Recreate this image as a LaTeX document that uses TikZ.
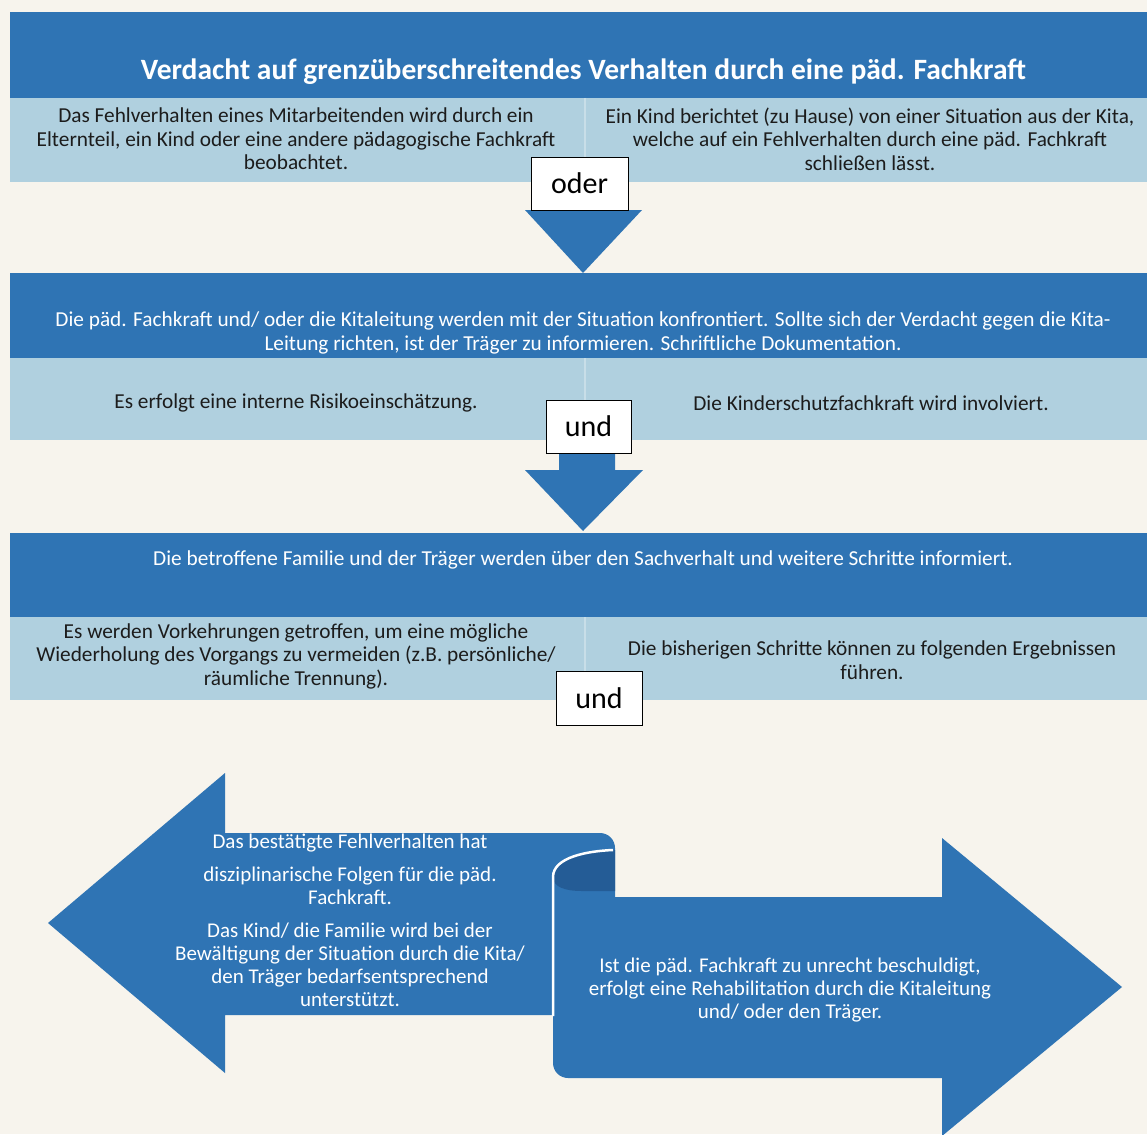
\documentclass[tikz,border=0pt]{standalone}
\usepackage{fontspec}
\setmainfont{Carlito}
\usetikzlibrary{positioning}
\definecolor{paper}{RGB}{247,244,237}
\definecolor{darkband}{RGB}{47,116,180}
\definecolor{lightband}{RGB}{176,208,223}
\definecolor{splitline}{RGB}{200,222,232}
\definecolor{foldblue}{RGB}{36,92,150}
\definecolor{textdark}{RGB}{28,28,28}

\begin{document}
\begin{tikzpicture}[x=1pt, y=-1pt,
  dark/.style={fill=darkband, inner sep=0, anchor=north west, minimum width=1137pt},
  light/.style={fill=lightband, inner sep=0, anchor=north west, minimum width=1137pt},
  title/.style={text=white, font=\bfseries\fontsize{29.5}{34}\selectfont},
  whitetext/.style={text=white, align=center, font=\fontsize{21.3}{23.5}\selectfont},
  celltext/.style={text=textdark, align=center, font=\fontsize{21.3}{23.5}\selectfont},
  joiner/.style={draw=black, fill=white, line width=0.9pt, inner sep=0, font=\fontsize{30}{34}\selectfont}]

\useasboundingbox (0,0) rectangle (1147,1134);
\fill[paper] (0,0) rectangle (1147,1134);

\node[dark, minimum height=86pt] (band1) at (10,12) {};
\node[light, minimum height=84pt] (cells1) at (10,98) {};
\node[dark, minimum height=85pt] (band2) at (10,273) {};
\node[light, minimum height=82pt] (cells2) at (10,358) {};
\node[dark, minimum height=84pt] (band3) at (10,533) {};
\node[light, minimum height=83pt] (cells3) at (10,617) {};

\foreach \b in {cells1, cells2, cells3}
  \draw[splitline, line width=2pt] (\b.north west) ++(575,0) -- ++(0,80);

\node[title] (head) at (583.5,72) {Verdacht auf grenzüberschreitendes Verhalten durch eine päd. Fachkraft};
\node[celltext] (seen) at (296,139) {Das Fehlverhalten eines Mitarbeitenden wird durch ein\\
  Elternteil, ein Kind oder eine andere pädagogische Fachkraft\\ beobachtet.};
\node[celltext] (told) at (870,139) {Ein Kind berichtet (zu Hause) von  einer Situation aus der Kita,\\
  welche auf ein Fehlverhalten durch eine päd. Fachkraft\\ schließen lässt.};

\node[whitetext] (confront) at (583,333) {Die päd. Fachkraft und/ oder die Kitaleitung werden mit der Situation konfrontiert. Sollte sich der Verdacht gegen die  Kita-\\
  Leitung richten, ist der Träger zu informieren. Schriftliche  Dokumentation.};
\node[celltext] (risk) at (296,403) {Es erfolgt eine interne Risikoeinschätzung.};
\node[celltext] (involve) at (871,403) {Die Kinderschutzfachkraft wird involviert.};

\node[whitetext] (inform) at (583,560) {Die betroffene Familie  und der Träger  werden über den  Sachverhalt und weitere Schritte informiert.};
\node[celltext] (prevent) at (296,656) {Es werden Vorkehrungen getroffen, um eine  mögliche\\
  Wiederholung des Vorgangs zu vermeiden (z.B. persönliche/\\ räumliche Trennung).};
\node[celltext] (results) at (872,660) {Die bisherigen Schritte  können zu folgenden Ergebnissen\\ führen.};

\fill[darkband] (525,210) -- (642,210) -- (583,273) -- cycle;
\fill[darkband] (559,420) -- (615,420) -- (615,470) -- (643,470) -- (583,531) -- (525,470) -- (559,470) -- cycle;

\node[joiner, minimum width=97pt, minimum height=53pt] (oder) at (579.5,183.5) {oder};
\node[joiner, minimum width=85pt, minimum height=53pt] (und1) at (588.5,426.5) {und};
\node[joiner, minimum width=86pt, minimum height=54pt] (und2) at (599,698) {und};

\fill[darkband] (48,923) -- (225,773) -- (225,833) -- (600,833) arc[start angle=-90, end angle=0, radius=15] -- (615,850)
  .. controls (588,851) and (553,857) .. (553,877) -- (553,1015) -- (225,1015) -- (225,1073) -- cycle;
\fill[darkband] (615,850) .. controls (588,851) and (553,857) .. (553,877) -- (553,1063)
  arc[start angle=180, end angle=90, radius=15] -- (942,1078) -- (942,1136) -- (1122,987) -- (942,838) -- (942,897) -- (615,897) -- cycle;
\fill[foldblue] (615,850) .. controls (588,851) and (553,857) .. (553,877) .. controls (553,887) and (565,891) .. (582,891) -- (615,891) -- cycle;
\draw[white, line width=2.5pt] (613,850) .. controls (588,851) and (553,857) .. (553,877) -- (553,1016);

\node[whitetext, font=\fontsize{21}{23}\selectfont] (guilty) at (350,920) {Das bestätigte Fehlverhalten hat\\[10pt]
  disziplinarische Folgen für die päd.\\ Fachkraft.\\[10pt]
  Das Kind/ die Familie wird bei der\\ Bewältigung der Situation durch die Kita/\\
  den Träger bedarfsentsprechend\\ unterstützt.};
\node[whitetext, font=\fontsize{21}{23}\selectfont] (cleared) at (790,990) {Ist die päd. Fachkraft zu unrecht beschuldigt,\\
  erfolgt eine Rehabilitation durch die Kitaleitung\\ und/ oder den Träger.};
\end{tikzpicture}
\end{document}
